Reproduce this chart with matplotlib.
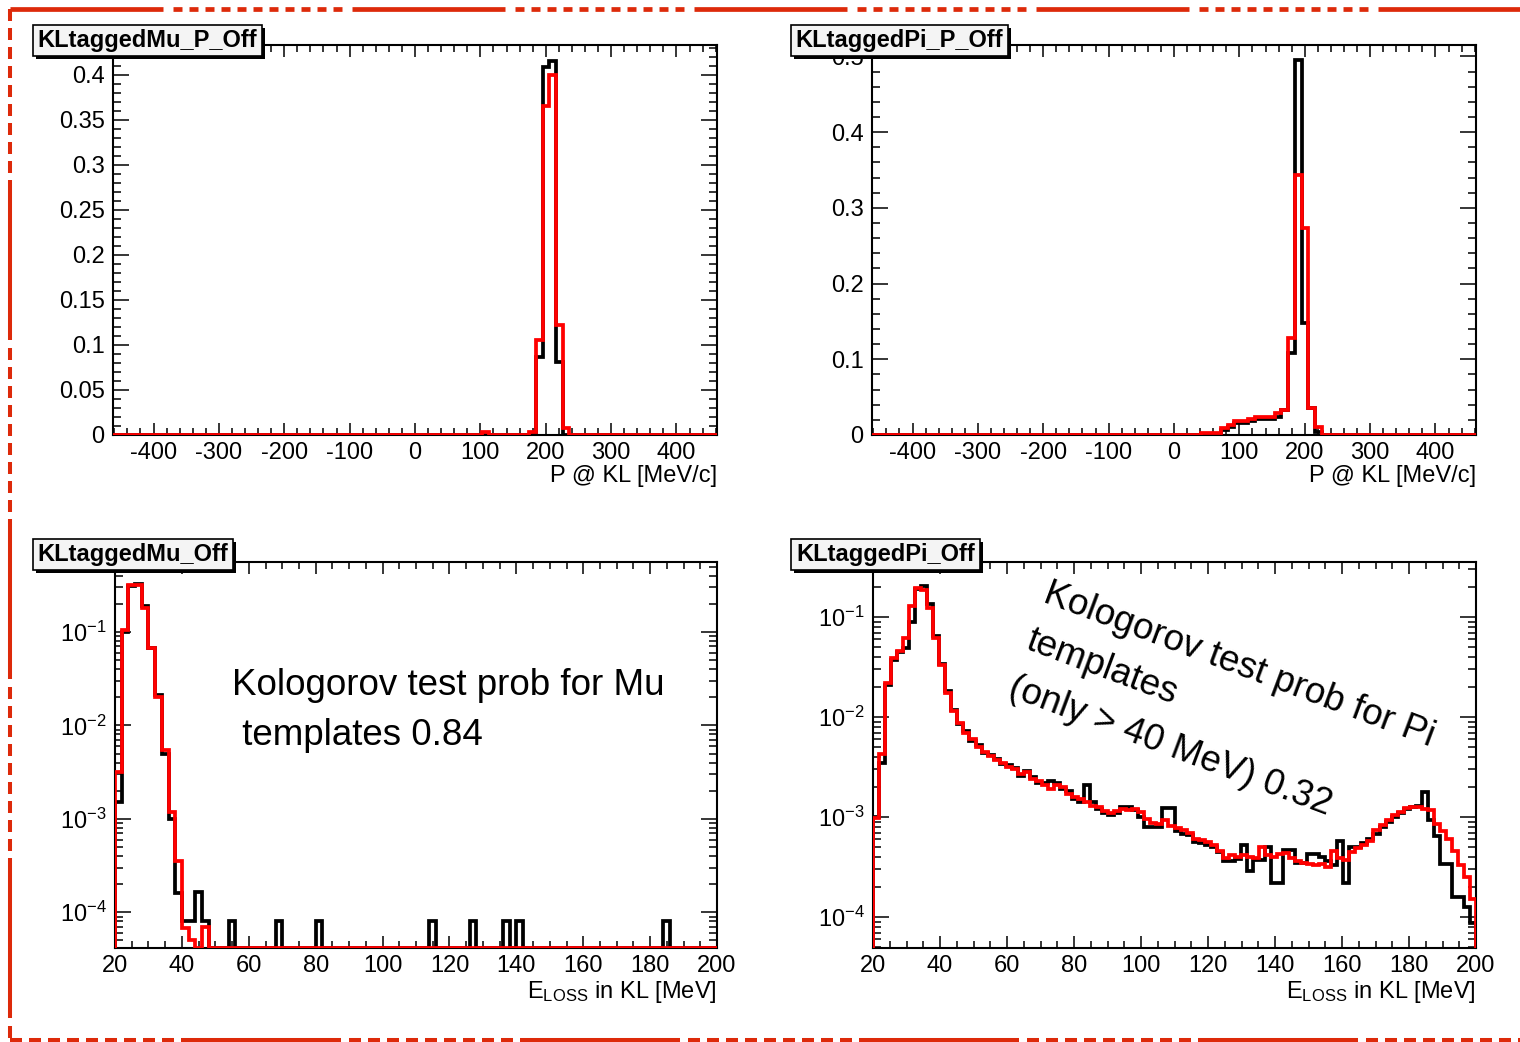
import matplotlib
matplotlib.use('Agg')
import matplotlib.pyplot as plt
import numpy as np
from matplotlib.patches import Rectangle
from matplotlib.lines import Line2D
from matplotlib.ticker import MultipleLocator, LogLocator, FuncFormatter, LogFormatterSciNotation, NullFormatter

plt.rcParams['font.family'] = ['Liberation Sans', 'DejaVu Sans']
plt.rcParams['mathtext.fontset'] = 'custom'
plt.rcParams['mathtext.rm'] = 'Liberation Sans'
plt.rcParams['axes.unicode_minus'] = False
plt.rcParams['lines.scale_dashes'] = False

# ---- data ----
# momentum histograms: 90 bins over [-462, 462]
p_edges = np.linspace(-462, 462, 91)
mu_p_bins = [55, 62, 63, 64, 65, 66, 67]
mu_p_black_vals = [0.0, 0.0, 0.087, 0.409, 0.415, 0.081, 0.0]
mu_p_red_vals = [0.003, 0.003, 0.105, 0.365, 0.400, 0.122, 0.008]

pi_p_bins = [49, 50, 51, 52, 53, 54, 55, 56, 57, 58, 59, 60, 61, 62, 63, 64, 65, 66]
pi_p_black_vals = [0.001, 0.001, 0.001, 0.006, 0.011, 0.016, 0.016, 0.019, 0.021, 0.021, 0.021,
                   0.024, 0.033, 0.108, 0.495, 0.148, 0.036, 0.004]
pi_p_red_vals = [0.002, 0.002, 0.002, 0.009, 0.013, 0.018, 0.018, 0.021, 0.024, 0.024, 0.024,
                 0.029, 0.033, 0.128, 0.343, 0.273, 0.035, 0.011]

# energy loss, mu: 90 bins of 2 MeV over [20, 200]
mu_e_edges = np.linspace(20, 200, 91)
mu_e_black_head = [1.5e-3, 0.10, 0.31, 0.33, 0.19, 0.068, 0.021, 5.0e-3, 1.0e-3, 1.6e-4,
                   8e-5, 8e-5, 1.66e-4, 8e-5]
mu_e_red_head = [3.2e-3, 0.105, 0.318, 0.318, 0.179, 0.067, 0.0203, 5.5e-3, 1.17e-3, 3.5e-4,
                 6.8e-5, 5e-5, 0.0, 7e-5]
mu_e_black_spike_bins = [17, 24, 30, 47, 53, 58, 60, 82]
mu_e_black_spike_vals = [8e-5, 8e-5, 8e-5, 8e-5, 8e-5, 8e-5, 8e-5, 8e-5]

# energy loss, pi: 100 bins of 1.8 MeV over [20, 200]
pi_e_edges = np.linspace(20, 200, 101)
pi_e_red = [9.7e-4, 4.3e-3, 0.022, 0.039, 0.046, 0.061, 0.13, 0.194, 0.186, 0.122,
            0.061, 0.033, 0.0175, 0.0115, 0.0088, 0.0070, 0.0060, 0.0050, 0.0045, 0.0041,
            0.0037, 0.0035, 0.0032, 0.0030, 0.0027, 0.0028, 0.0024, 0.0023, 0.0021, 0.0019,
            0.0021, 0.0020, 0.0017, 0.0016, 0.0015, 0.0014, 0.0013, 0.00125, 0.00115, 0.0011,
            0.00115, 0.0012, 0.00118, 0.00121, 0.00112, 0.00095, 0.00088, 0.00085, 0.00093, 0.00082,
            0.00077, 0.00075, 0.00069, 0.00060, 0.00059, 0.00056, 0.00052, 0.00046, 0.00039, 0.00042,
            0.00040, 0.00042, 0.00040, 0.00039, 0.00050, 0.00042, 0.00040, 0.00043, 0.00044, 0.00039,
            0.00036, 0.00035, 0.00034, 0.00033, 0.00034, 0.00032, 0.00046, 0.00039, 0.00037, 0.00045,
            0.00049, 0.00053, 0.00057, 0.00075, 0.00083, 0.00093, 0.00105, 0.00113, 0.00122, 0.00127,
            0.00127, 0.00120, 0.00117, 0.00085, 0.00072, 0.00060, 0.00046, 0.00033, 0.00025, 0.00015]
pi_e_black = [1.0e-3, 3.5e-3, 0.021, 0.037, 0.045, 0.049, 0.09, 0.19, 0.205, 0.135,
              0.064, 0.034, 0.018, 0.0118, 0.0085, 0.0072, 0.0058, 0.0052, 0.0044, 0.0042,
              0.0038, 0.0034, 0.0033, 0.0031, 0.0026, 0.0029, 0.0025, 0.0022, 0.0022, 0.0023,
              0.0022, 0.0019, 0.0018, 0.0015, 0.0014, 0.0021, 0.0014, 0.0012, 0.0011, 0.00105,
              0.0011, 0.00125, 0.00125, 0.00118, 0.0010, 0.0008, 0.00079, 0.0008, 0.00122, 0.00122,
              0.00072, 0.00068, 0.00066, 0.00056, 0.00055, 0.00052, 0.00050, 0.00045, 0.00036, 0.00036,
              0.00038, 0.00053, 0.00029, 0.00037, 0.00037, 0.00050, 0.00022, 0.00022, 0.00047, 0.00047,
              0.00035, 0.00035, 0.00043, 0.00043, 0.00040, 0.00036, 0.00033, 0.00058, 0.00022, 0.00050,
              0.00050, 0.00055, 0.00060, 0.00068, 0.00080, 0.00090, 0.00100, 0.00110, 0.00120, 0.00125,
              0.00130, 0.00178, 0.00093, 0.00064, 0.00034, 0.00034, 0.00016, 0.00016, 0.000127, 0.000087]

titles = ['KLtaggedMu_P_Off', 'KLtaggedPi_P_Off', 'KLtaggedMu_Off', 'KLtaggedPi_Off']

# ---- layout ----
W, H = 1520, 1042
fig = plt.figure(figsize=(W / 100, H / 100), dpi=100)
RED = '#ff0000'
FRAME = '#dd2a0a'


def box(l, t, r, b):
    return [l / W, 1 - b / H, (r - l) / W, (b - t) / H]


def fill(bins, vals, n):
    out = np.zeros(n)
    out[bins] = vals
    return out


def root_style(ax):
    ax.tick_params(which='both', direction='in', top=True, right=True, width=1.1,
                   labelsize=17, colors='black')
    ax.tick_params(axis='x', which='major', length=8.5, pad=5)
    ax.tick_params(axis='x', which='minor', length=5)
    ax.tick_params(axis='y', which='major', length=11.5, pad=6)
    ax.tick_params(axis='y', which='minor', length=6)
    for s in ax.spines.values():
        s.set_linewidth(1.5)


def hist(ax, edges, vals, color, floor=0.0):
    v = np.maximum(np.asarray(vals, float), floor)
    ax.stairs(v, edges, baseline=floor, color=color, lw=2.7, zorder=3)


fmt = FuncFormatter(lambda v, p: '%g' % round(v, 4))

# top-left
ax1 = fig.add_axes(box(113, 45, 717, 435))
hist(ax1, p_edges, fill(mu_p_bins, mu_p_black_vals, 90), 'black')
hist(ax1, p_edges, fill(mu_p_bins, mu_p_red_vals, 90), RED)
ax1.set_xlim(-462, 462)
ax1.set_ylim(0, 0.433)
ax1.yaxis.set_major_locator(MultipleLocator(0.05))
ax1.yaxis.set_minor_locator(MultipleLocator(0.01))

# top-right
ax2 = fig.add_axes(box(872, 45, 1476, 435))
hist(ax2, p_edges, fill(pi_p_bins, pi_p_black_vals, 90), 'black')
hist(ax2, p_edges, fill(pi_p_bins, pi_p_red_vals, 90), RED)
ax2.set_xlim(-462, 462)
ax2.set_ylim(0, 0.515)
ax2.yaxis.set_major_locator(MultipleLocator(0.1))
ax2.yaxis.set_minor_locator(MultipleLocator(0.02))

for ax in (ax1, ax2):
    root_style(ax)
    ax.xaxis.set_major_locator(MultipleLocator(100))
    ax.xaxis.set_minor_locator(MultipleLocator(20))
    ax.xaxis.set_major_formatter(fmt)
    ax.yaxis.set_major_formatter(fmt)
    ax.text(1.0, -0.105, 'P @ KL [MeV/c]', transform=ax.transAxes, ha='right', va='center', fontsize=17)

# bottom-left
mu_floor = 4.14e-5
ax3 = fig.add_axes(box(115, 562, 717, 948))
mu_e_black = fill(list(range(len(mu_e_black_head))) + mu_e_black_spike_bins,
                  mu_e_black_head + mu_e_black_spike_vals, 90)
mu_e_red = fill(list(range(len(mu_e_red_head))), mu_e_red_head, 90)
ax3.set_yscale('log')
hist(ax3, mu_e_edges, mu_e_black, 'black', mu_floor)
hist(ax3, mu_e_edges, mu_e_red, RED, mu_floor)
ax3.set_ylim(mu_floor, 0.562)

# bottom-right
pi_floor = 4.9e-5
ax4 = fig.add_axes(box(873, 562, 1476, 948))
ax4.set_yscale('log')
hist(ax4, pi_e_edges, pi_e_black, 'black', pi_floor)
hist(ax4, pi_e_edges, pi_e_red, RED, pi_floor)
ax4.set_ylim(pi_floor, 0.355)

for ax in (ax3, ax4):
    root_style(ax)
    ax.set_xlim(20, 200)
    ax.xaxis.set_major_locator(MultipleLocator(20))
    ax.xaxis.set_minor_locator(MultipleLocator(5))
    ax.xaxis.set_major_formatter(fmt)
    ax.yaxis.set_major_locator(LogLocator(base=10))
    ax.yaxis.set_minor_locator(LogLocator(base=10, subs=np.arange(2, 10)))
    ax.yaxis.set_major_formatter(LogFormatterSciNotation())
    ax.yaxis.set_minor_formatter(NullFormatter())
    ax.text(1.0, -0.115, r'$\mathdefault{E_{LOSS}}$ in KL [MeV]', transform=ax.transAxes,
            ha='right', va='center', fontsize=17)

# title boxes
title_boxes = [(33, 25, 262, 56), (791, 25, 1008, 56), (33, 539, 233, 570), (791, 539, 980, 570)]
for (l, t, r, b), name in zip(title_boxes, titles):
    fig.add_artist(Rectangle((l / W + 3 / W, 1 - (b + 3) / H), (r - l) / W, (b - t) / H,
                             transform=fig.transFigure, facecolor='black', edgecolor='none', zorder=5))
    fig.add_artist(Rectangle((l / W, 1 - b / H), (r - l) / W, (b - t) / H,
                             transform=fig.transFigure, facecolor='#f4f4f4', edgecolor='black',
                             lw=1.2, zorder=6))
    fig.text((l + r) / 2 / W, 1 - (t + b) / 2 / H, name, ha='center', va='center',
             fontsize=17, fontweight='bold', zorder=7)

# annotations
fig.text(232 / W, 1 - 695 / H, 'Kologorov test prob for Mu', ha='left', va='baseline', fontsize=26.5)
fig.text(232 / W, 1 - 745 / H, ' templates 0.84', ha='left', va='baseline', fontsize=26.5)

pi_lines = ['Kologorov test prob for Pi', 'templates', '(only > 40 MeV) 0.32']
pi_starts = [(1042, 602), (1024, 649), (1007, 696)]
for s, (x, y) in zip(pi_lines, pi_starts):
    fig.text(x / W, 1 - y / H, s, ha='left', va='baseline', rotation=-20.5,
             rotation_mode='anchor', fontsize=26.5)

# slide frame (red dashed border)
px = 100 / 72.0
top_dash = [153, 10] + [9, 7] * 10 + [9, 10]
side_dash = [12, 7] * 9 + [160, 8]
fig.add_artist(Line2D([10 / W, 1.0], [1 - 9 / H, 1 - 9 / H], transform=fig.transFigure,
                      color=FRAME, lw=3.4, dashes=[d / px for d in top_dash], zorder=8))
fig.add_artist(Line2D([10 / W, 10 / W], [1 - 9 / H, 0.0], transform=fig.transFigure,
                      color=FRAME, lw=2.9, dashes=[d / px for d in side_dash], zorder=8))
fig.add_artist(Line2D([10 / W, 1.0], [1 - 1040 / H, 1 - 1040 / H], transform=fig.transFigure,
                      color=FRAME, lw=2.9, dashes=[d / px for d in side_dash], zorder=8))

fig.savefig('out.png', dpi=100, facecolor='white')
